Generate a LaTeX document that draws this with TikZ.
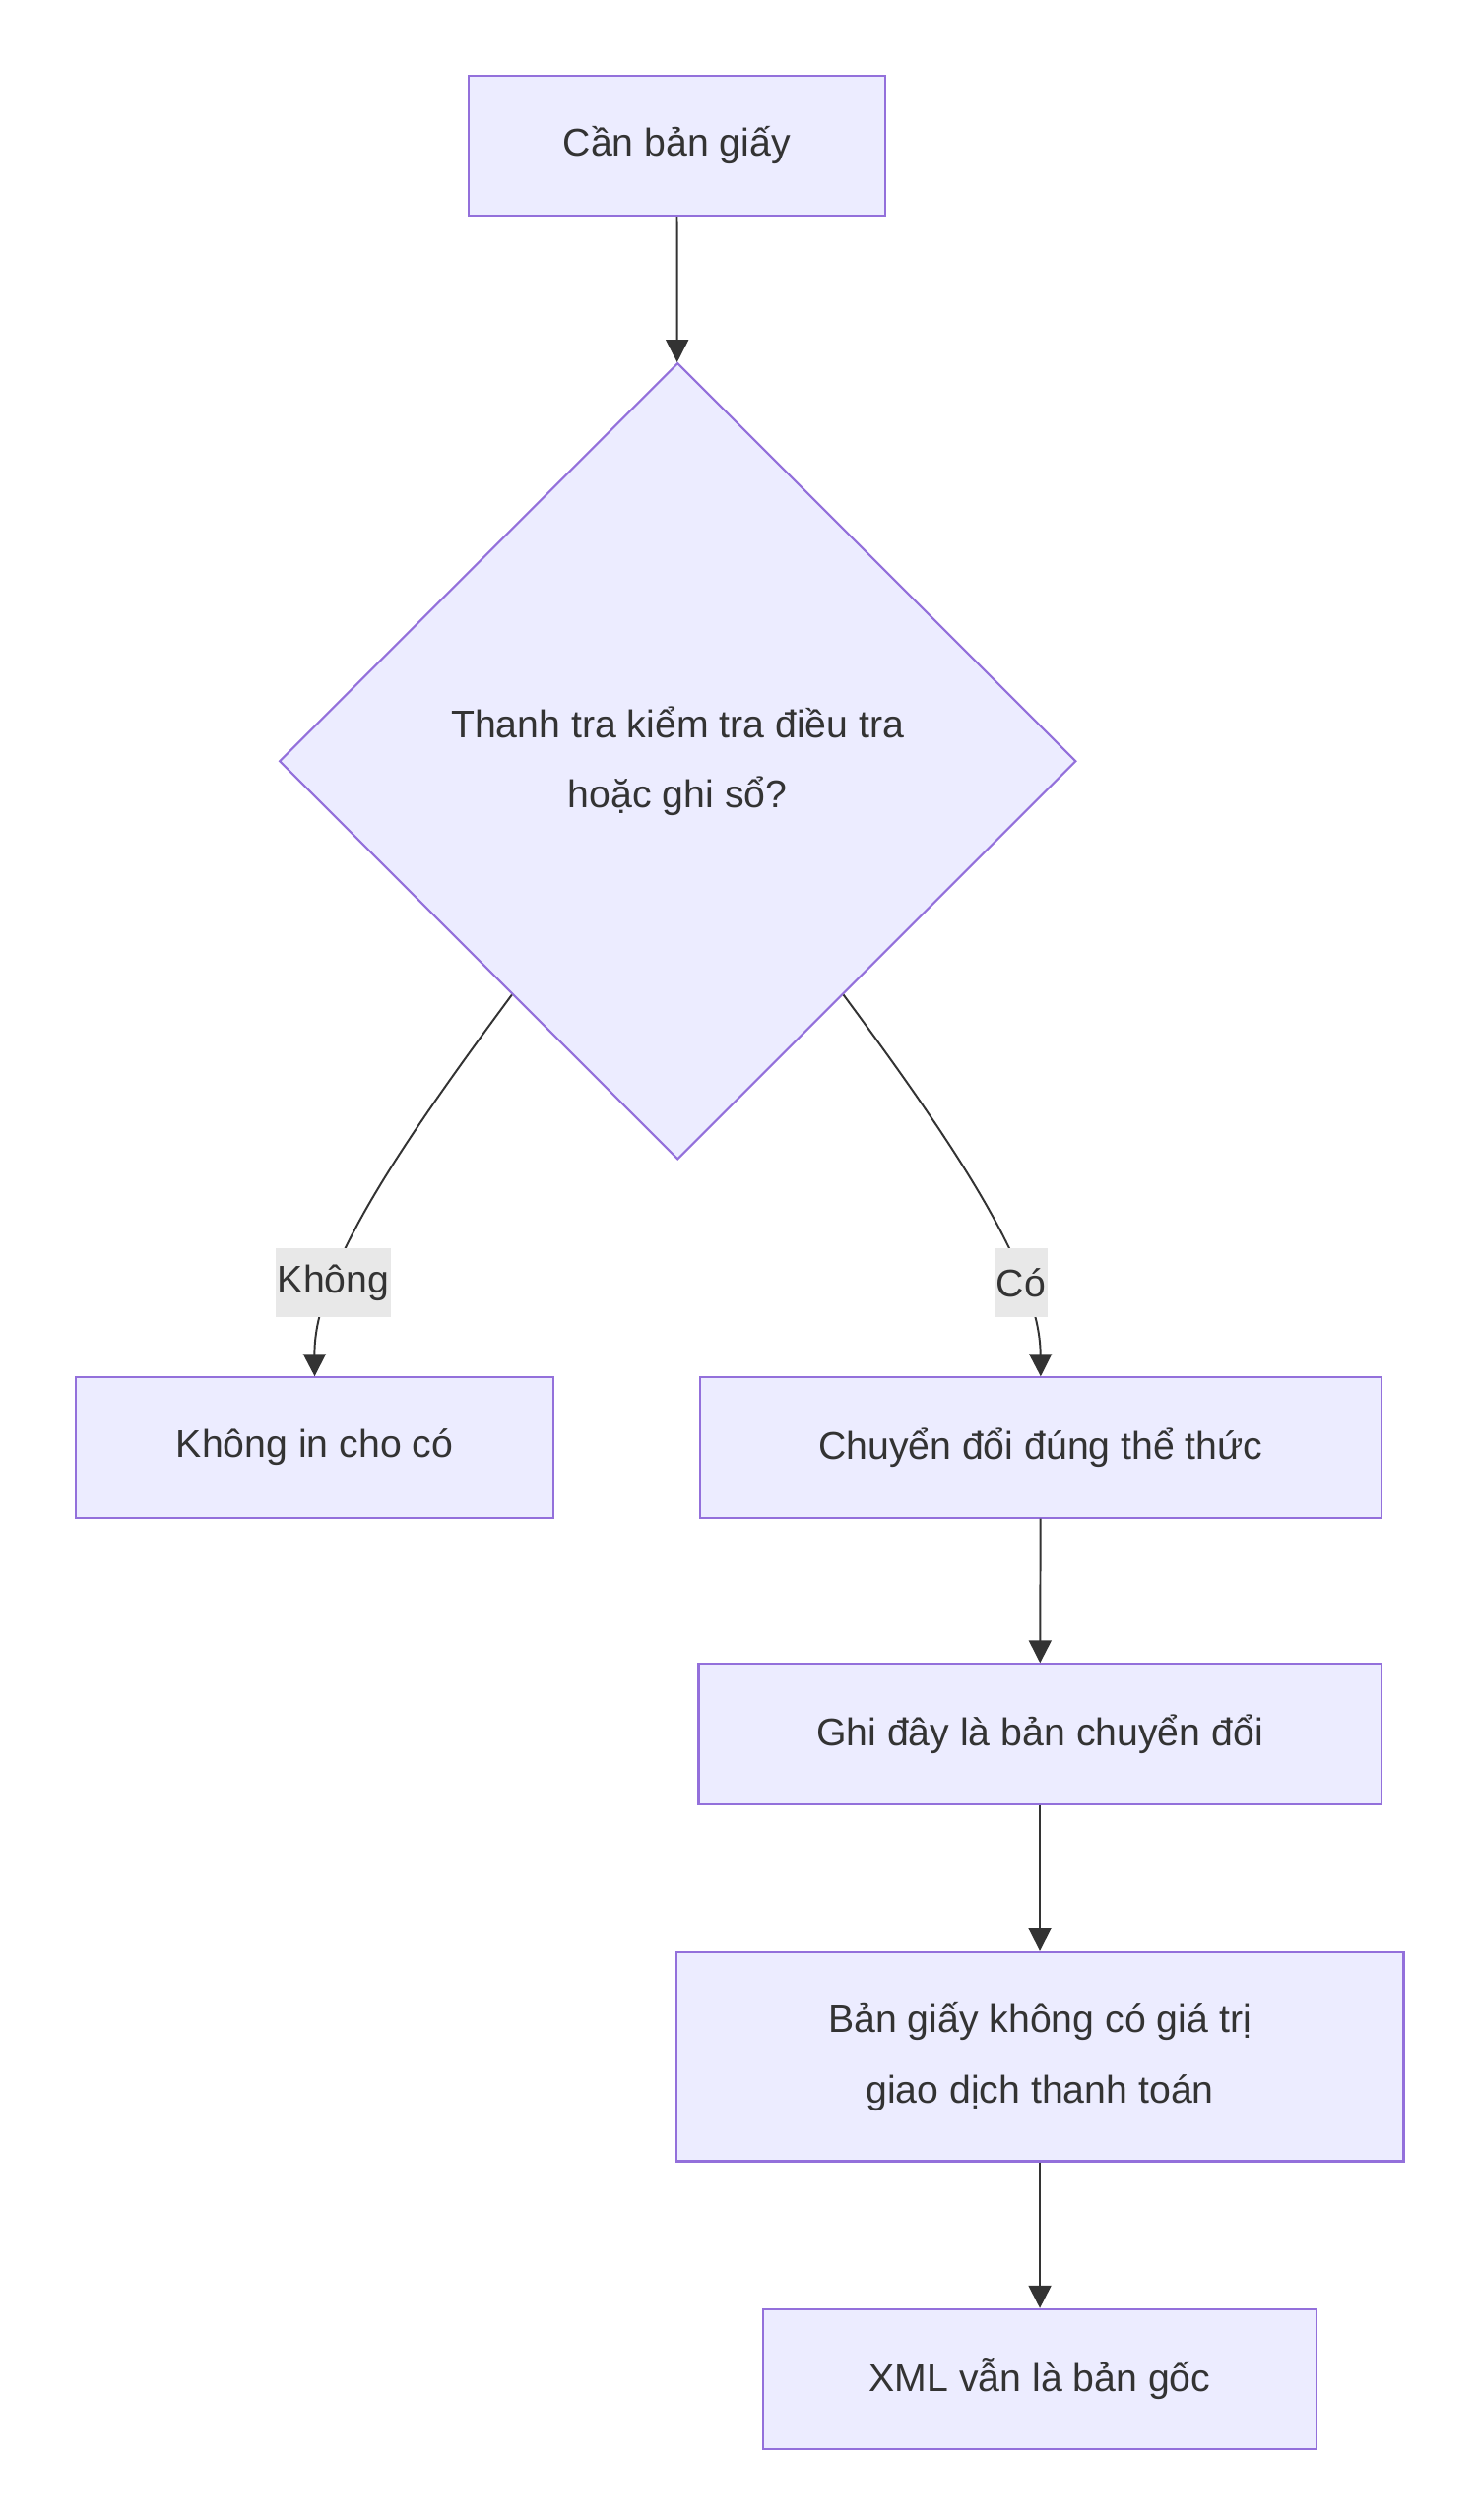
\documentclass[tikz,border=0pt]{standalone}
\usepackage{fontspec}
\setmainfont{Liberation Sans}
\usetikzlibrary{shapes.geometric,arrows.meta,calc}
\definecolor{boxfill}{HTML}{ECECFF}
\definecolor{boxline}{HTML}{9370DB}
\definecolor{ink}{HTML}{333333}
\definecolor{lblbg}{HTML}{E8E8E8}
\begin{document}
\begin{tikzpicture}[x=1pt,y=-1pt,
    box/.style={draw=boxline,fill=boxfill,line width=1.3pt,text=ink,
        minimum height=87pt,inner sep=0pt,align=center,
        font=\fontsize{24}{44}\selectfont},
    dec/.style={box,diamond,minimum width=495pt,minimum height=495pt},
    lbl/.style={fill=lblbg,text=ink,inner sep=1pt,minimum height=43pt,
        font=\fontsize{24}{44}\selectfont},
    arr/.style={draw=ink,line width=1.2pt,-{Triangle[length=14pt,width=14pt]}}]
        %NEN
        \useasboundingbox[fill=white] (0,0) rectangle (917,1566);
        %NUT
        \node[box,minimum width=259pt] (can) at (420.5,90.5) {Cần bản giấy};
        \node[dec] (hoi) at (421,473) {Thanh tra kiểm tra điều tra\\hoặc ghi sổ?};
        \node[box,minimum width=297pt] (khong) at (195.5,899.5) {Không in cho có};
        \node[box,minimum width=423pt] (chuyen) at (646.5,899.5) {Chuyển đổi đúng thể thức};
        \node[box,minimum width=424pt] (ghi) at (646,1077.5) {Ghi đây là bản chuyển đổi};
        \node[box,minimum width=452pt,minimum height=130pt] (giatri) at (646,1278) {Bản giấy không có giá trị\\giao dịch thanh toán};
        \node[box,minimum width=344pt] (xml) at (646,1478.5) {XML vẫn là bản gốc};
        %DIEM
        \coordinate (hoiL) at ($(hoi.south west)!0.17!(hoi.south)$);
        \coordinate (hoiR) at ($(hoi.south east)!0.17!(hoi.south)$);
        %MUI TEN
        \draw[arr] (can) -- (hoi);
        \draw[arr] (hoiL) .. controls (250,710) and (195,790) .. node[lbl,pos=0.72] {Không} (khong.north);
        \draw[arr] (hoiR) .. controls (592,710) and (646,790) .. node[lbl,pos=0.72] {Có} (chuyen.north);
        \draw[arr] (chuyen) -- (ghi);
        \draw[arr] (ghi) -- (giatri);
        \draw[arr] (giatri) -- (xml);
\end{tikzpicture}
\end{document}
